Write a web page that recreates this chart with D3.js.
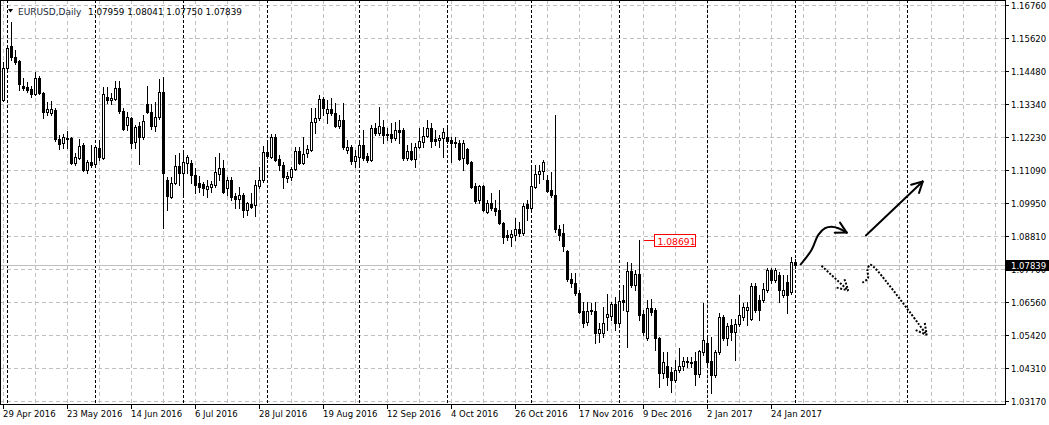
<!DOCTYPE html>
<html>
<head>
<meta charset="utf-8">
<script src="https://cdn.jsdelivr.net/npm/d3@7"></script>
<style>
  body { margin: 0; background: #fff; }
  svg text { font-family: "DejaVu Sans", Tahoma, sans-serif; font-size: 8.5px; }
</style>
</head>
<body>
<svg id="chart"></svg>
<script>
// EURUSD daily bars, 29 Apr 2016 .. 1 Feb 2017 (one bar per weekday)
const opens = [
  1.1351,1.1461,1.1536,1.1499,1.1485,1.1399,1.1396,1.1389,1.1372,1.1427,
  1.1375,1.1310,1.1306,1.1317,1.1217,1.1204,1.1217,1.1221,1.1135,1.1152,
  1.1197,1.1111,1.1138,1.1131,1.1186,1.1152,1.1361,1.1351,1.1354,1.1392,
  1.1313,1.1265,1.1289,1.1207,1.1262,1.1224,1.1337,1.1310,1.1262,1.1293,
  1.1378,1.1077,1.1018,1.1066,1.1125,1.1101,1.1135,1.1135,1.1094,1.1066,
  1.1063,1.1046,1.1053,1.1059,1.1097,1.1118,1.1049,1.1077,1.1022,1.1011,
  1.1025,1.0974,1.0994,1.0991,1.1056,1.1077,1.1173,1.1156,1.1224,1.1149,
  1.1128,1.1083,1.1087,1.1114,1.1176,1.1135,1.1169,1.1180,1.1276,1.1289,
  1.1354,1.1306,1.1320,1.1306,1.1262,1.1282,1.1180,1.1190,1.1142,1.1156,
  1.1197,1.1159,1.1145,1.1255,1.1238,1.1258,1.1234,1.1234,1.1221,1.1248,
  1.1248,1.1152,1.1176,1.1149,1.1190,1.1207,1.1228,1.1255,1.1217,1.1214,
  1.1221,1.1224,1.1214,1.1207,1.1204,1.1152,1.1183,1.1138,1.1056,1.1008,
  1.1056,1.0967,1.0998,1.0981,1.0974,1.0929,1.0888,1.0881,1.0888,1.0909,
  1.0895,1.0994,1.0981,1.1053,1.1097,1.1108,1.1077,1.1042,1.1025,1.0909,
  1.0895,1.0833,1.0737,1.0723,1.0689,1.0627,1.0590,1.0627,1.0627,1.0552,
  1.0552,1.0607,1.0610,1.0651,1.0586,1.0665,1.0627,1.0765,1.0716,1.0754,
  1.0617,1.0535,1.0638,1.0631,1.0535,1.0415,1.0439,1.0418,1.0391,1.0425,
  1.0439,1.0456,1.0452,1.0456,1.0411,1.0487,1.0518,1.0456,1.0408,1.0487,
  1.0607,1.0535,1.0579,1.0555,1.0583,1.0607,1.0631,1.0600,1.0713,1.0665,
  1.0665,1.0699,1.0768,1.0734,1.0751,1.0682,1.0727,1.0692,1.07959
];
const highs = [
  1.1481,1.1540,1.1619,1.1523,1.1488,1.1427,1.1413,1.1399,1.1447,1.1433,
  1.1378,1.1344,1.1348,1.1324,1.1231,1.1234,1.1245,1.1224,1.1169,1.1217,
  1.1204,1.1145,1.1197,1.1197,1.1214,1.1396,1.1396,1.1375,1.1416,1.1416,
  1.1324,1.1310,1.1293,1.1265,1.1276,1.1300,1.1399,1.1337,1.1344,1.1423,
  1.1430,1.1087,1.1087,1.1162,1.1169,1.1169,1.1162,1.1145,1.1118,1.1090,
  1.1070,1.1077,1.1073,1.1156,1.1169,1.1145,1.1087,1.1087,1.1032,1.1053,
  1.1032,1.1001,1.1032,1.1077,1.1121,1.1193,1.1214,1.1234,1.1234,1.1162,
  1.1138,1.1104,1.1121,1.1190,1.1190,1.1224,1.1197,1.1324,1.1324,1.1368,
  1.1361,1.1351,1.1358,1.1341,1.1300,1.1341,1.1214,1.1197,1.1180,1.1214,
  1.1248,1.1169,1.1265,1.1272,1.1327,1.1282,1.1255,1.1272,1.1276,1.1282,
  1.1255,1.1197,1.1204,1.1204,1.1255,1.1258,1.1282,1.1272,1.1248,1.1231,
  1.1255,1.1255,1.1224,1.1224,1.1214,1.1214,1.1186,1.1142,1.1066,1.1059,
  1.1059,1.1008,1.1032,1.1008,1.1042,1.0933,1.0905,1.0905,1.0946,1.0933,
  1.0998,1.1008,1.1121,1.1128,1.1128,1.1145,1.1094,1.1104,1.1300,1.0922,
  1.0926,1.0836,1.0758,1.0758,1.0699,1.0658,1.0658,1.0655,1.0658,1.0586,
  1.0641,1.0686,1.0658,1.0675,1.0689,1.0716,1.0795,1.0792,1.0768,1.08691,
  1.0631,1.0665,1.0668,1.0638,1.0538,1.0487,1.0487,1.0435,1.0459,1.0500,
  1.0470,1.0470,1.0470,1.0487,1.0494,1.0655,1.0538,1.0538,1.0494,1.0620,
  1.0613,1.0586,1.0600,1.0600,1.0682,1.0655,1.0658,1.0723,1.0723,1.0682,
  1.0723,1.0775,1.0775,1.0775,1.0761,1.0751,1.0751,1.0813,1.08041
];
const lows = [
  1.1348,1.1457,1.1488,1.1475,1.1385,1.1385,1.1378,1.1361,1.1368,1.1372,
  1.1289,1.1300,1.1300,1.1210,1.1183,1.1186,1.1186,1.1131,1.1128,1.1149,
  1.1107,1.1101,1.1121,1.1128,1.1145,1.1149,1.1341,1.1337,1.1351,1.1306,
  1.1248,1.1248,1.1186,1.1186,1.1131,1.1217,1.1306,1.1252,1.1245,1.1286,
  1.0912,1.0974,1.1015,1.1063,1.1059,1.1025,1.1101,1.1066,1.1032,1.1035,
  1.1025,1.1018,1.1035,1.1053,1.1077,1.1032,1.1025,1.1008,1.0981,1.0981,
  1.0950,1.0957,1.0981,1.0953,1.1049,1.1070,1.1152,1.1152,1.1142,1.1111,
  1.1049,1.1070,1.1077,1.1111,1.1131,1.1131,1.1156,1.1176,1.1238,1.1282,
  1.1300,1.1272,1.1300,1.1258,1.1255,1.1183,1.1169,1.1131,1.1121,1.1121,
  1.1145,1.1138,1.1142,1.1231,1.1231,1.1204,1.1214,1.1207,1.1214,1.1204,
  1.1145,1.1145,1.1145,1.1121,1.1186,1.1190,1.1224,1.1190,1.1197,1.1190,
  1.1156,1.1204,1.1138,1.1190,1.1145,1.1111,1.1131,1.1049,1.0998,1.0998,
  1.0970,1.0963,1.0974,1.0957,1.0926,1.0861,1.0871,1.0850,1.0871,1.0885,
  1.0888,1.0939,1.0977,1.1049,1.1066,1.1080,1.1035,1.1018,1.0898,1.0871,
  1.0833,1.0730,1.0710,1.0682,1.0620,1.0572,1.0579,1.0617,1.0518,1.0521,
  1.0538,1.0562,1.0596,1.0562,1.0579,1.0631,1.0504,1.0710,1.0699,1.0596,
  1.0545,1.0528,1.0613,1.0494,1.0367,1.0397,1.0373,1.0349,1.0384,1.0418,
  1.0425,1.0435,1.0435,1.0373,1.0401,1.0476,1.0442,1.0346,1.0401,1.0480,
  1.0528,1.0511,1.0528,1.0459,1.0576,1.0596,1.0579,1.0596,1.0624,1.0596,
  1.0658,1.0692,1.0723,1.0727,1.0658,1.0675,1.0620,1.0686,1.07750
];
const closes = [
  1.1461,1.1529,1.1499,1.1481,1.1406,1.1392,1.1385,1.1372,1.1427,1.1375,
  1.1310,1.1320,1.1320,1.1217,1.1200,1.1224,1.1221,1.1135,1.1156,1.1193,
  1.1111,1.1138,1.1128,1.1190,1.1156,1.1372,1.1351,1.1358,1.1392,1.1313,
  1.1252,1.1293,1.1204,1.1258,1.1224,1.1279,1.1310,1.1262,1.1293,1.1378,
  1.1101,1.1022,1.1066,1.1125,1.1101,1.1138,1.1156,1.1094,1.1059,1.1053,
  1.1049,1.1056,1.1063,1.1104,1.1118,1.1035,1.1077,1.1018,1.1011,1.1025,
  1.0974,1.0998,1.0984,1.1059,1.1077,1.1173,1.1159,1.1224,1.1145,1.1128,
  1.1087,1.1090,1.1114,1.1176,1.1135,1.1166,1.1183,1.1276,1.1289,1.1354,
  1.1324,1.1320,1.1306,1.1262,1.1282,1.1190,1.1190,1.1142,1.1159,1.1197,
  1.1152,1.1145,1.1255,1.1238,1.1262,1.1231,1.1231,1.1221,1.1248,1.1241,
  1.1152,1.1176,1.1149,1.1190,1.1210,1.1228,1.1255,1.1210,1.1210,1.1221,
  1.1241,1.1210,1.1204,1.1204,1.1149,1.1204,1.1135,1.1053,1.1005,1.1056,
  1.0974,1.0998,1.0981,1.0970,1.0929,1.0881,1.0881,1.0891,1.0909,1.0895,
  1.0988,1.0981,1.1056,1.1097,1.1108,1.1138,1.1039,1.1025,1.0909,1.0888,
  1.0850,1.0737,1.0723,1.0689,1.0624,1.0586,1.0627,1.0631,1.0552,1.0566,
  1.0586,1.0617,1.0651,1.0586,1.0662,1.0658,1.0765,1.0716,1.0754,1.0613,
  1.0555,1.0638,1.0624,1.0535,1.0415,1.0452,1.0401,1.0391,1.0425,1.0439,
  1.0456,1.0452,1.0449,1.0411,1.0490,1.0528,1.0452,1.0408,1.0487,1.0607,
  1.0535,1.0576,1.0555,1.0583,1.0613,1.0641,1.0641,1.0713,1.0631,1.0631,
  1.0703,1.0768,1.0734,1.0768,1.0699,1.0699,1.0682,1.0795,1.07839
];

// price scale labels (right side)
const priceTicks = [1.16760, 1.15620, 1.14480, 1.13340, 1.12230, 1.11090, 1.09950,
                    1.08810, 1.07700, 1.06560, 1.05420, 1.04310, 1.03170];

// time scale labels and the bar each sits on
const timeLabels = ["29 Apr 2016", "23 May 2016", "14 Jun 2016", "6 Jul 2016", "28 Jul 2016",
                    "19 Aug 2016", "12 Sep 2016", "4 Oct 2016", "26 Oct 2016", "17 Nov 2016",
                    "9 Dec 2016", "2 Jan 2017", "24 Jan 2017"];
const timeLabelBars = [0, 16, 32, 48, 64, 80, 96, 112, 128, 144, 160, 176, 192];

// first bar of each month (period separators), last one is 1 Mar 2017 in the future area
const monthStartBars = [1, 23, 45, 66, 89, 111, 132, 154, 176, 198, 226];

// price label object on the 8 Dec high
const labelBar = 159;

// hand drawn forecast arrows, points as [bar, price]
const upCurve = [[199.3, 1.0787], [202.0, 1.0836], [203.7, 1.0888], [205.4, 1.0911],
                 [207.0, 1.0916], [208.7, 1.0911], [210.8, 1.0896]];
const upLine = [[215.6, 1.0886], [229.8, 1.1071]];
const downShort = [[204.5, 1.0782], [211.2, 1.0697]];
const downCurve = [[214.7, 1.0724], [216.1, 1.0739], [216.0, 1.0768], [216.6, 1.0785],
                   [217.5, 1.0779], [230.8, 1.0545]];

// ---------------------------------------------------------------
const W = 1049, H = 425;
const frame = {left: 0, top: 0, right: 1005, bottom: 404};

const x = d3.scaleLinear().domain([0, 1]).range([3.5, 7.5]);   // 4px per bar
const y = d3.scaleLinear().domain([1.0317, 1.1676]).range([401.3, 5.3]);
const row = v => Math.floor(y(v)) + 0.5;
const fmt = d3.format(".5f");

const bars = d3.range(opens.length).map(i => ({i: i, o: opens[i], h: highs[i], l: lows[i], c: closes[i]}));
const last = bars[bars.length - 1];

const svg = d3.select("#chart").attr("width", W).attr("height", H);
svg.append("rect").attr("width", W).attr("height", H).attr("fill", "#fff");

svg.append("clipPath").attr("id", "plot")
  .append("rect").attr("x", frame.left).attr("y", frame.top)
  .attr("width", frame.right - frame.left).attr("height", frame.bottom - frame.top);

const plot = svg.append("g").attr("clip-path", "url(#plot)");

// grid
const grid = plot.append("g").attr("shape-rendering", "crispEdges")
  .attr("stroke", "#c0c0c0").attr("stroke-dasharray", "4,3");

grid.selectAll("line.h").data(priceTicks).join("line").attr("class", "h")
  .attr("x1", frame.left).attr("x2", frame.right)
  .attr("y1", d => row(d)).attr("y2", d => row(d));

grid.selectAll("line.v").data(d3.range(0, 256, 8)).join("line").attr("class", "v")
  .attr("x1", d => x(d)).attr("x2", d => x(d))
  .attr("y1", frame.top).attr("y2", frame.bottom);

// period separators
plot.append("g").attr("shape-rendering", "crispEdges")
  .selectAll("line").data(monthStartBars).join("line")
  .attr("x1", d => x(d)).attr("x2", d => x(d))
  .attr("y1", frame.top).attr("y2", frame.bottom)
  .attr("stroke", "#000").attr("stroke-dasharray", "3,2");

// bid line
plot.append("line")
  .attr("x1", frame.left).attr("x2", frame.right)
  .attr("y1", row(last.c)).attr("y2", row(last.c))
  .attr("stroke", "#c0c0c0").attr("shape-rendering", "crispEdges");

// candles
const candle = plot.append("g").attr("shape-rendering", "crispEdges")
  .selectAll("g").data(bars).join("g");

candle.append("line")
  .attr("x1", d => x(d.i)).attr("x2", d => x(d.i))
  .attr("y1", d => Math.round(y(d.h)))
  .attr("y2", d => Math.round(y(d.l)) + 1)
  .attr("stroke", "#000");

candle.append("rect")
  .attr("x", d => x(d.i) - 1)
  .attr("width", 2)
  .attr("y", d => Math.round(y(Math.max(d.o, d.c))) + 0.5)
  .attr("height", d => Math.max(Math.round(y(Math.min(d.o, d.c))) - Math.round(y(Math.max(d.o, d.c))), 1))
  .attr("fill", d => d.c > d.o ? "#fff" : "#000")
  .attr("stroke", "#000");

// price label on the high of bar labelBar
const lb = bars[labelBar];
const lbY = row(lb.h);
const lbg = plot.append("g").attr("shape-rendering", "crispEdges");
lbg.append("line")
  .attr("x1", x(labelBar) + 4).attr("x2", x(labelBar) + 15)
  .attr("y1", lbY).attr("y2", lbY)
  .attr("stroke", "#ff0000");
lbg.append("rect")
  .attr("x", x(labelBar) + 15).attr("y", lbY - 6)
  .attr("width", 41).attr("height", 12)
  .attr("fill", "#fff").attr("stroke", "#ff0000");
plot.append("text")
  .attr("x", x(labelBar) + 18).attr("y", lbY + 4)
  .attr("fill", "#ff0000").style("font-size", "9.2px")
  .text(fmt(lb.h));

// forecast arrows
function arrow(pts, dotted, curve) {
  const p = pts.map(d => [x(d[0]), y(d[1])]);
  const g = plot.append("g")
    .attr("fill", "none").attr("stroke", "#000").attr("stroke-width", 2)
    .attr("stroke-linecap", dotted ? "butt" : "round")
    .attr("stroke-linejoin", "round");
  if (dotted) g.attr("stroke-dasharray", "2,1.6");
  g.append("path").attr("d", d3.line().curve(curve || d3.curveLinear)(p));
  const [x2, y2] = p[p.length - 1];
  const [x1, y1] = p[p.length - 2];
  const a = Math.atan2(y2 - y1, x2 - x1);
  [-0.5, 0.5].forEach(s => {
    g.append("path").attr("d", d3.line()([
      [x2 - 12 * Math.cos(a + s), y2 - 12 * Math.sin(a + s)], [x2, y2]]));
  });
}
arrow(upCurve, false, d3.curveCatmullRom);
arrow(upLine, false);
arrow(downShort, true);
arrow(downCurve, true, d3.curveCatmullRom);

// frame
const fr = svg.append("g").attr("shape-rendering", "crispEdges").attr("stroke", "#000");
fr.append("line").attr("x1", frame.left + 0.5).attr("x2", frame.left + 0.5).attr("y1", frame.top).attr("y2", frame.bottom + 1);
fr.append("line").attr("x1", frame.left).attr("x2", frame.right + 1).attr("y1", frame.top + 0.5).attr("y2", frame.top + 0.5);
fr.append("line").attr("x1", frame.right + 0.5).attr("x2", frame.right + 0.5).attr("y1", frame.top).attr("y2", frame.bottom + 1);
fr.append("line").attr("x1", frame.left).attr("x2", frame.right + 1).attr("y1", frame.bottom + 0.5).attr("y2", frame.bottom + 0.5);

// price scale (the 1.07700 label sits under the bid box, as in the terminal)
const pAxis = svg.append("g");
pAxis.selectAll("line").data(priceTicks).join("line")
  .attr("x1", frame.right + 1).attr("x2", frame.right + 4)
  .attr("y1", d => row(d)).attr("y2", d => row(d))
  .attr("stroke", "#000").attr("shape-rendering", "crispEdges");
pAxis.selectAll("text").data(priceTicks).join("text")
  .attr("x", frame.right + 6).attr("y", d => row(d) + 3.5)
  .attr("fill", "#000")
  .text(d => fmt(d));

// bid box
const bidY = row(last.c);
svg.append("rect")
  .attr("x", frame.right + 1).attr("y", bidY - 5.5)
  .attr("width", W - frame.right - 1).attr("height", 11)
  .attr("fill", "#000");
svg.append("text")
  .attr("x", frame.right + 6).attr("y", bidY + 3.5)
  .attr("fill", "#fff")
  .text(fmt(last.c));

// time scale
const tAxis = svg.append("g");
tAxis.selectAll("line").data(timeLabelBars).join("line")
  .attr("x1", d => x(d)).attr("x2", d => x(d))
  .attr("y1", frame.bottom + 1).attr("y2", frame.bottom + 5)
  .attr("stroke", "#000").attr("shape-rendering", "crispEdges");
tAxis.selectAll("text").data(timeLabels).join("text")
  .attr("x", (d, k) => x(timeLabelBars[k]) - 0.5)
  .attr("y", frame.bottom + 13)
  .attr("fill", "#000")
  .text(d => d);

// header
svg.append("path").attr("d", "M8,9 L13,9 L10.5,12.5 Z").attr("fill", "#000");
svg.append("text").attr("x", 18).attr("y", 14.5).attr("fill", "#1a2a3a")
  .style("font-size", "9px").text("EURUSD,Daily");
svg.append("text").attr("x", 88).attr("y", 14.5).attr("fill", "#000")
  .style("font-size", "8.8px")
  .text([last.o, last.h, last.l, last.c].map(fmt).join(" "));
</script>
</body>
</html>
